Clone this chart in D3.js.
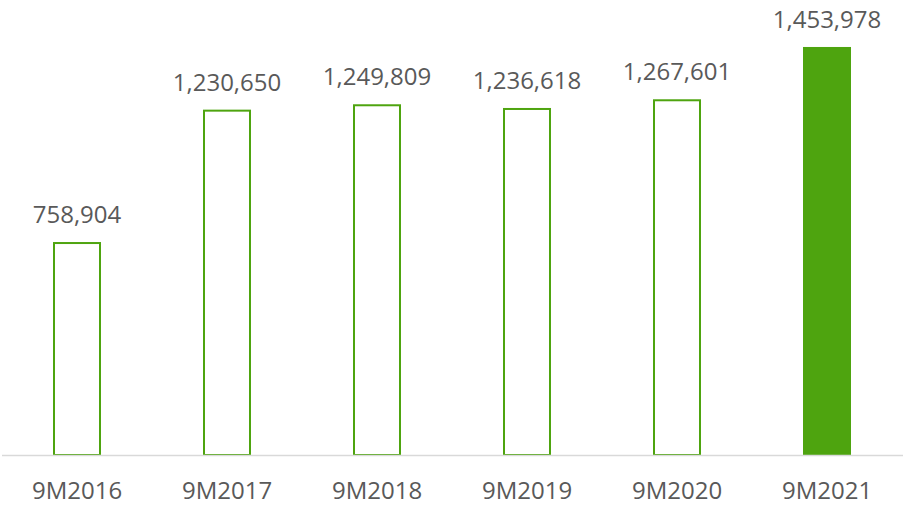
<!DOCTYPE html>
<html>
<head>
<meta charset="utf-8">
<script src="https://cdn.jsdelivr.net/npm/d3@7"></script>
<style>
  html, body { margin: 0; padding: 0; background: #fff; }
  svg { display: block; }
  text { font-family: "Open Sans", "Noto Sans", sans-serif; fill: #595959; }
</style>
</head>
<body>
<svg id="chart" width="903" height="506"></svg>
<script>
// Nine-month totals by year
const periods = ["9M2016", "9M2017", "9M2018", "9M2019", "9M2020", "9M2021"];
const totals = [758904, 1230650, 1249809, 1236618, 1267601, 1453978];
const highlight = ["9M2021"];

const W = 903, H = 506;
const baseY = 455;
const green = "#4ea40f";
const fontSize = 24;

const svg = d3.select("#chart");

const x = d3.scaleBand()
  .domain(periods)
  .range([2, 902])
  .paddingInner(0.68)
  .paddingOuter(0.34);

const y = d3.scaleLinear()
  .domain([0, 1600000])
  .range([baseY, 6]);

const fmt = d3.format(",");
const data = periods.map((p, i) => ({ period: p, value: totals[i] }));

// Bars: outlined, with the latest period filled solid
const sw = 2;
svg.append("g").selectAll("rect")
  .data(data)
  .join("rect")
  .attr("x", d => x(d.period) + sw / 2)
  .attr("y", d => y(d.value) + sw / 2)
  .attr("width", x.bandwidth() - sw)
  .attr("height", d => baseY - y(d.value) - sw / 2)
  .attr("fill", d => highlight.includes(d.period) ? green : "#fff")
  .attr("stroke", green)
  .attr("stroke-width", sw);

// Baseline
svg.append("line")
  .attr("x1", 2).attr("x2", 903)
  .attr("y1", baseY + 0.5).attr("y2", baseY + 0.5)
  .attr("stroke", "#d9d9d9")
  .attr("stroke-width", 1.5);

// Value labels
svg.append("g").selectAll("text")
  .data(data)
  .join("text")
  .attr("x", d => x(d.period) + x.bandwidth() / 2)
  .attr("y", d => y(d.value) - 19)
  .attr("text-anchor", "middle")
  .attr("font-size", fontSize)
  .text(d => fmt(d.value));

// Category axis labels
const xAxis = d3.axisBottom(x).tickSize(0).tickPadding(0);
const gx = svg.append("g")
  .attr("transform", `translate(0,${baseY})`)
  .call(xAxis);
gx.select(".domain").remove();
gx.selectAll("text")
  .attr("font-size", fontSize)
  .attr("dy", null)
  .attr("y", 44)
  .style("fill", "#595959")
  .style("font-family", "\"Open Sans\", \"Noto Sans\", sans-serif");
</script>
</body>
</html>
